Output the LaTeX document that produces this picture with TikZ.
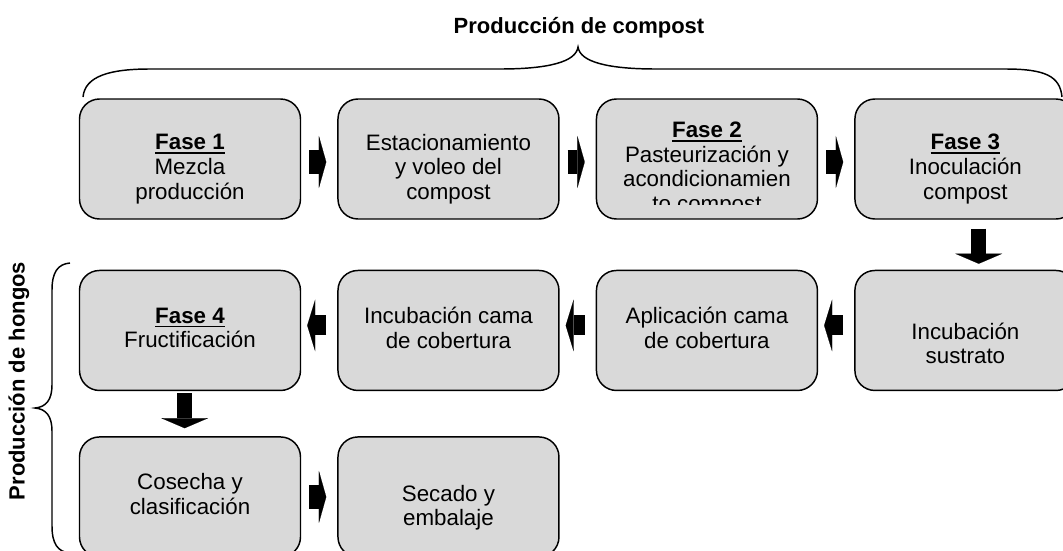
\documentclass[tikz,border=0pt]{standalone}
\usepackage{fontspec}
\setmainfont{Liberation Sans}
\usetikzlibrary{arrows.meta}
\usetikzlibrary{positioning}

\definecolor{boxgray}{RGB}{217,217,217}
\newcommand{\fasehead}[1]{\setbox0\hbox{\textbf{#1}}\rlap{\rule[-3.3pt]{\wd0}{1.4pt}}\box0}

\begin{document}
\begin{tikzpicture}[
        x=0.75pt, y=-0.75pt,
        stepbox/.style={rectangle, rounded corners=15pt, draw, line width=1.1pt,
          fill=boxgray, minimum width=165.75pt, minimum height=90pt},
        steptext/.style={align=center, inner sep=0pt,
          font={\fontsize{16.75}{18.5}\selectfont}},
        bracetext/.style={font={\fontsize{16.5}{20}\selectfont\bfseries}},
        fatright/.style={line width=17.5pt, shorten <=6pt, shorten >=8.25pt,
          -{Triangle[length=5.5pt, width=39pt, line width=0.1pt]}},
        fatleft/.style={line width=15pt, shorten <=8.25pt, shorten >=4.5pt,
          -{Triangle[length=6pt, width=39pt, line width=0.1pt]}},
        fatdown/.style={line width=11pt, shorten <=6.75pt, shorten >=4.5pt,
          -{Triangle[length=7.5pt, width=35pt, line width=0.1pt]}},
        node distance=27pt]

      \clip (0,0) rectangle (1063,550);

      % compost row
      \node[stepbox] (mezcla) at (190,159) {};
      \node[stepbox, right=of mezcla] (voleo) {};
      \node[stepbox, right=of voleo] (pasteur) {};
      \node[stepbox, right=of pasteur] (inocul) {};
      % hongos rows
      \node[stepbox, below=37.5pt of inocul] (incsust) {};
      \node[stepbox, left=of incsust] (aplic) {};
      \node[stepbox, left=of aplic] (inccama) {};
      \node[stepbox, left=of inccama] (fructif) {};
      \node[stepbox, below=33.75pt of fructif] (cosecha) {};
      \node[stepbox, right=of cosecha] (secado) {};

      \begin{scope}
        \clip (0,0) rectangle (1063,204);
        \node[steptext] (mezcla_txt) at ([yshift=-7.5pt]mezcla.center)
          {\fasehead{Fase 1}\\Mezcla\\producción};
        \node[steptext] (voleo_txt) at ([yshift=-7.5pt]voleo.center)
          {Estacionamiento\\y voleo del\\compost};
        \node[steptext] (pasteur_txt) at ([yshift=-7.5pt]pasteur.center)
          {\fasehead{Fase 2}\\Pasteurización y\\acondicionamien\\to compost};
        \node[steptext] (inocul_txt) at ([yshift=-7.5pt]inocul.center)
          {\fasehead{Fase 3}\\Inoculación\\compost};
      \end{scope}

      \node[steptext] (incsust_txt) at ([yshift=-9.75pt]incsust.center) {Incubación\\sustrato};
      \node[steptext] (aplic_txt) at ([yshift=2pt]aplic.center) {Aplicación cama\\de cobertura};
      \node[steptext] (inccama_txt) at ([yshift=2pt]inccama.center) {Incubación cama\\de cobertura};
      \node[steptext] (fructif_txt) at ([yshift=2pt]fructif.center) {\fasehead{Fase 4}\\Fructificación};
      \node[steptext] (cosecha_txt) at ([yshift=2pt]cosecha.center) {Cosecha y\\clasificación};
      \node[steptext] (secado_txt) at ([yshift=-8pt]secado.center) {Secado y\\embalaje};

      \draw[fatright] ([yshift=-2.25pt]mezcla.east) -- ([yshift=-2.25pt]voleo.west);
      \draw[fatright] ([yshift=-2.25pt]voleo.east) -- ([yshift=-2.25pt]pasteur.west);
      \draw[fatright] ([yshift=-2.25pt]pasteur.east) -- ([yshift=-2.25pt]inocul.west);
      \draw[fatdown] ([xshift=10pt]inocul.south) -- ([xshift=10pt]incsust.north);
      \draw[fatleft] ([yshift=3.75pt]incsust.west) -- ([yshift=3.75pt]aplic.east);
      \draw[fatleft] ([yshift=3.75pt]aplic.west) -- ([yshift=3.75pt]inccama.east);
      \draw[fatleft] ([yshift=3.75pt]inccama.west) -- ([yshift=3.75pt]fructif.east);
      \draw[fatdown, shorten <=1.5pt, shorten >=6pt] ([xshift=-4pt]fructif.south) -- ([xshift=-4pt]cosecha.north);
      \draw[fatright] (cosecha) -- (secado);

      % braces
      \draw[line width=1.1pt] (83,97) .. controls (85,76) and (110,69) .. (150,69) -- (500,69)
        .. controls (548,69) and (576,62) .. (578,47) .. controls (580,62) and (608,69) .. (656,69)
        -- (1005,69) .. controls (1045,69) and (1060,76) .. (1062,97);
      \draw[line width=1.1pt] (70,263) .. controls (58,264) and (52,272) .. (52,290) -- (52,385)
        .. controls (52,400) and (46,407) .. (35,408) .. controls (46,409) and (52,416) .. (52,431)
        -- (52,526) .. controls (52,544) and (58,552) .. (70,553);

      \node[bracetext] (compost_lbl) at (579,28) {Producción de compost};
      \node[bracetext, rotate=90] (hongos_lbl) at (19,381) {Producción de hongos};
    \end{tikzpicture}
\end{document}
